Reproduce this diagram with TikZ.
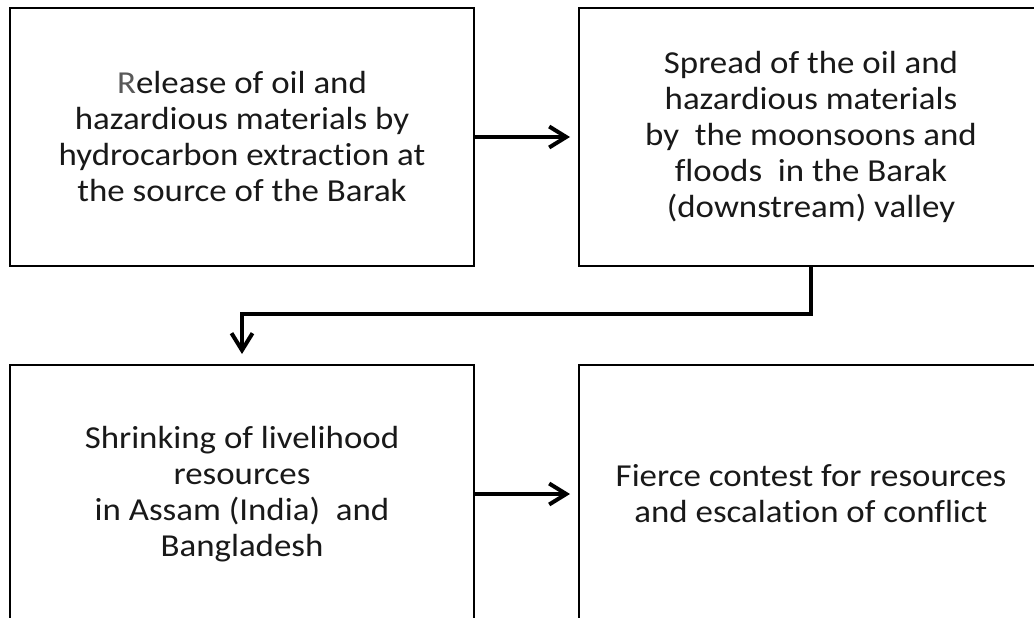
\documentclass[tikz,border=0pt]{standalone}
\usepackage{fontspec}
\setmainfont[FakeStretch=1.09,Ligatures={NoCommon}]{Carlito}
\usetikzlibrary{arrows.meta}
\begin{document}
\begin{tikzpicture}[x=1pt,y=-1pt,
  box/.style={draw=black, line width=2pt, minimum width=464pt, minimum height=258pt,
    inner sep=0pt, align=center, text=black!90, font=\fontsize{32}{36}\selectfont},
  conn/.style={draw=black, line width=4pt, -{Straight Barb[length=17pt,width=21pt]}}]
\useasboundingbox (0,0) rectangle (1034,618);
\clip (0,0) rectangle (1034,618);
\fill[white] (0,0) rectangle (1034,618);
\node[box] (b1) at (242,137) {{\color{black!65}R}elease of oil and\\hazardious materials by\\hydrocarbon extraction at\\the source of the Barak};
\node[box] (b2) at (811,137) {Spread of the oil and\\hazardious materials\\by\ \ the moonsoons and\\floods\ \ in the Barak\\(downstream) valley};
\node[box] (b3) at (242,494) {Shrinking of livelihood\\resources\\in Assam (India)\ \ and\\Bangladesh};
\node[box] (b4) at (811,494) {Fierce contest for resources\\and escalation of conflict};
\coordinate (c1) at (811,314);
\draw[conn, shorten >=8pt] (b1.east) -- (b2.west);
\draw[conn, shorten >=10pt] (b2.south) -- (b2.south |- c1) -| (b3.north);
\draw[conn, shorten >=8pt] (b3.east) -- (b4.west);
\end{tikzpicture}
\end{document}
